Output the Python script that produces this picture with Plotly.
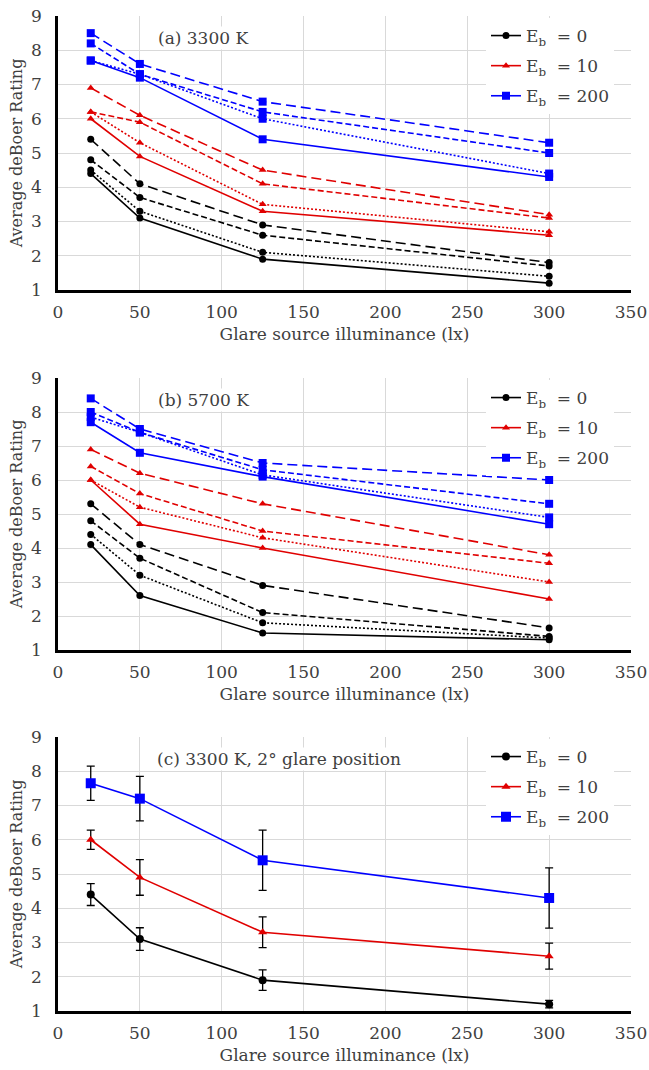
import plotly.graph_objects as go

W, H = 649, 1070

# Glare source illuminance (lx)
illuminance = [20, 50, 125, 300]
eb_labels = ["E<sub>b</sub>\u00a0\u00a0= 0", "E<sub>b</sub>\u00a0\u00a0= 10", "E<sub>b</sub>\u00a0\u00a0= 200"]
panel_titles = ["(a) 3300 K", "(b) 5700 K", "(c) 3300 K, 2° glare position"]

# Panel (a) 3300 K -- each list holds four series: solid, dotted, short dash, long dash
a_eb0 = [[4.4, 3.1, 1.9, 1.2], [4.5, 3.3, 2.1, 1.4], [4.8, 3.7, 2.6, 1.7], [5.4, 4.1, 2.9, 1.8]]
a_eb10 = [[6.0, 4.9, 3.3, 2.6], [6.2, 5.3, 3.5, 2.7], [6.2, 5.9, 4.1, 3.1], [6.9, 6.1, 4.5, 3.2]]
a_eb200 = [[7.7, 7.2, 5.4, 4.3], [7.7, 7.3, 6.0, 4.4], [8.2, 7.3, 6.2, 5.0], [8.5, 7.6, 6.5, 5.3]]

# Panel (b) 5700 K
b_eb0 = [[4.1, 2.6, 1.5, 1.3], [4.4, 3.2, 1.8, 1.35], [4.8, 3.7, 2.1, 1.4], [5.3, 4.1, 2.9, 1.65]]
b_eb10 = [[6.0, 4.7, 4.0, 2.5], [6.0, 5.2, 4.3, 3.0], [6.4, 5.6, 4.5, 3.55], [6.9, 6.2, 5.3, 3.8]]
b_eb200 = [[7.7, 6.8, 6.1, 4.7], [7.85, 7.4, 6.15, 4.9], [8.0, 7.4, 6.3, 5.3], [8.4, 7.5, 6.5, 6.0]]

# Panel (c) 3300 K, 2 deg glare position: means and error half-widths
c_eb0 = [4.4, 3.1, 1.9, 1.2]
c_eb0_err = [0.32, 0.33, 0.30, 0.11]
c_eb10 = [6.0, 4.9, 3.3, 2.6]
c_eb10_err = [0.28, 0.52, 0.45, 0.38]
c_eb200 = [7.65, 7.2, 5.4, 4.3]
c_eb200_err = [0.50, 0.65, 0.88, 0.88]

COLORS = ["#000000", "#e00000", "#0000ff"]
SYMBOLS = ["circle", "triangle-up", "square"]
SIZES_AB = [7, 7, 8]
SIZES_C = [8, 8, 10]
DASHES = ["solid", "2px,2px", "6px,3px", "10px,5px"]
FONT = "DejaVu Serif"
TEXT = "#404040"

# plot-area pixel boxes (left, right, top, bottom)
X0, X1 = 58, 631
PANEL_Y = [(16, 290), (378, 650), (737, 1011)]

fig = go.Figure()
axis_ids = ["", "2", "3"]
legend_ids = ["legend", "legend2", "legend3"]

for p, (top, bot) in enumerate(PANEL_Y):
    xa = "x" + axis_ids[p]
    ya = "y" + axis_ids[p]
    if p < 2:
        groups = [a_eb0, a_eb10, a_eb200] if p == 0 else [b_eb0, b_eb10, b_eb200]
        for k, series_set in enumerate(groups):
            for s, vals in enumerate(series_set):
                fig.add_trace(go.Scatter(
                    x=illuminance, y=vals, xaxis=xa, yaxis=ya,
                    mode="lines+markers",
                    line=dict(color=COLORS[k], width=1.6, dash=DASHES[s]),
                    marker=dict(color=COLORS[k], symbol=SYMBOLS[k], size=SIZES_AB[k]),
                    name=eb_labels[k], legend=legend_ids[p],
                    legendgroup=f"p{p}eb{k}",
                    showlegend=(s == 0), legendrank=k,
                ))
    else:
        means = [c_eb0, c_eb10, c_eb200]
        errs = [c_eb0_err, c_eb10_err, c_eb200_err]
        for k in range(3):
            fig.add_trace(go.Scatter(
                x=illuminance, y=means[k], xaxis=xa, yaxis=ya,
                mode="lines+markers",
                line=dict(color=COLORS[k], width=1.6),
                marker=dict(color=COLORS[k], symbol=SYMBOLS[k], size=SIZES_C[k]),
                error_y=dict(type="data", array=errs[k], color="#000000", thickness=1.3, width=4),
                name=eb_labels[k], legend=legend_ids[p],
                legendgroup=f"p{p}eb{k}", legendrank=k,
            ))

layout = dict(
    width=W, height=H,
    margin=dict(l=0, r=0, t=0, b=0),
    paper_bgcolor="white", plot_bgcolor="white",
    font=dict(family=FONT, size=17, color=TEXT),
    annotations=[],
)

for p, (top, bot) in enumerate(PANEL_Y):
    xkey = "xaxis" + axis_ids[p]
    ykey = "yaxis" + axis_ids[p]
    layout[xkey] = dict(
        domain=[X0 / W, X1 / W], anchor="y" + axis_ids[p],
        range=[0, 350], dtick=50, tick0=0,
        showgrid=True, gridcolor="#d9d9d9", gridwidth=1,
        showline=True, linecolor="#000000", linewidth=2.5,
        zeroline=False, ticks="", ticklabelstandoff=5,
        tickfont=dict(family=FONT, size=17, color=TEXT),
        title=dict(text="Glare source illuminance (lx)", standoff=7,
                   font=dict(family=FONT, size=17, color=TEXT)),
        automargin=False,
    )
    layout[ykey] = dict(
        domain=[1 - bot / H, 1 - top / H], anchor="x" + axis_ids[p],
        range=[1, 9], dtick=1, tick0=1,
        showgrid=True, gridcolor="#d9d9d9", gridwidth=1,
        showline=True, linecolor="#000000", linewidth=2.5,
        zeroline=False, ticks="", ticklabelstandoff=10,
        tickfont=dict(family=FONT, size=17, color=TEXT),
        title=dict(text="Average deBoer Rating", standoff=5,
                   font=dict(family=FONT, size=16, color=TEXT)),
        automargin=False,
    )
    layout[legend_ids[p]] = dict(
        x=486 / W, y=1 - (top + 2) / H, xanchor="left", yanchor="top",
        bgcolor="white", borderwidth=0,
        font=dict(family=FONT, size=17, color=TEXT),
        traceorder="grouped", tracegroupgap=5,
    )
    layout["annotations"].append(dict(
        text=panel_titles[p], xref="paper", yref="paper",
        x=(156 if p < 2 else 155) / W, y=1 - (top + 22) / H,
        xanchor="left", yanchor="middle", showarrow=False,
        bgcolor="white", font=dict(family=FONT, size=17, color=TEXT),
    ))

fig.update_layout(**layout)
fig.write_html("out.html")
